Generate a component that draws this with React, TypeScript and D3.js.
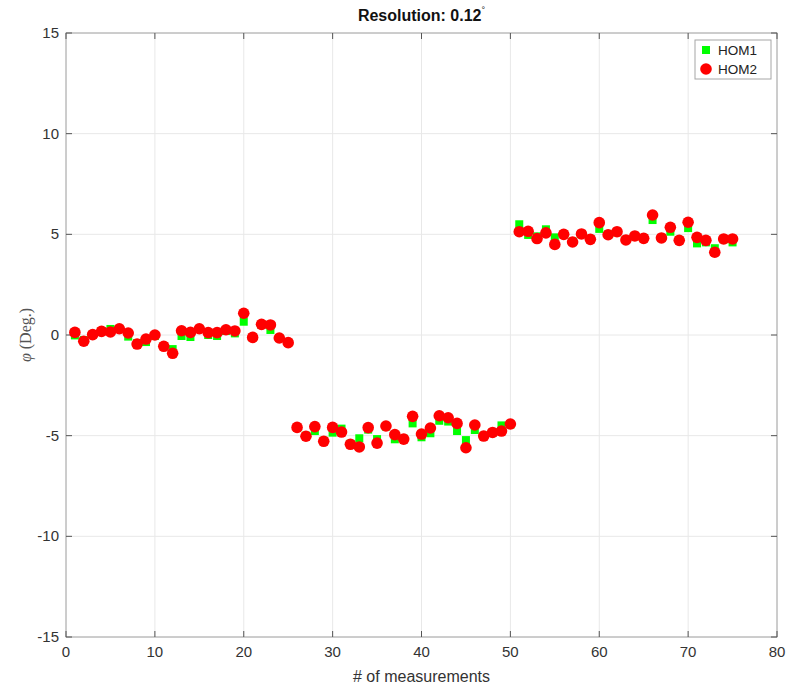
import React, { useEffect, useRef } from "react";
import * as d3 from "d3";

const measurements: number[] = d3.range(1, 76);

const hom2: number[] = [
  0.13, -0.31, 0.02, 0.18, 0.15, 0.31, 0.1, -0.45, -0.2, 0.0,
  -0.56, -0.91, 0.21, 0.13, 0.31, 0.12, 0.12, 0.26, 0.2, 1.08,
  -0.12, 0.53, 0.5, -0.15, -0.38,
  -4.59, -5.03, -4.55, -5.28, -4.59, -4.82, -5.43, -5.56, -4.6, -5.37,
  -4.52, -4.95, -5.17, -4.04, -4.92, -4.62, -4.01, -4.11, -4.39, -5.6,
  -4.47, -5.02, -4.84, -4.77, -4.42,
  5.13, 5.15, 4.79, 5.07, 4.5, 5.0, 4.62, 5.02, 4.75, 5.58,
  4.98, 5.13, 4.72, 4.92, 4.8, 5.96, 4.82, 5.35, 4.7, 5.6,
  4.85, 4.7, 4.11, 4.77, 4.77,
];

const hom1: number[] = [
  -0.02, -0.25, 0.02, 0.2, 0.3, 0.3, -0.08, -0.4, -0.35, -0.05,
  -0.55, -0.7, -0.05, -0.1, 0.3, 0.0, -0.05, 0.2, 0.08, 0.66,
  -0.12, 0.5, 0.25, -0.15, -0.38,
  -4.6, -5.0, -4.77, -5.25, -4.85, -4.65, -5.4, -5.13, -4.7, -5.17,
  -4.55, -5.18, -5.15, -4.39, -5.08, -4.88, -4.26, -4.3, -4.77, -5.22,
  -4.72, -5.0, -4.85, -4.49, -4.45,
  5.5, 4.97, 4.9, 5.25, 4.85, 5.0, 4.65, 5.0, 4.78, 5.27,
  5.0, 5.1, 4.72, 4.9, 4.82, 5.71, 4.82, 5.13, 4.72, 5.31,
  4.55, 4.6, 4.31, 4.75, 4.6,
];

const xTicks: number[] = [0, 10, 20, 30, 40, 50, 60, 70, 80];
const yTicks: number[] = [-15, -10, -5, 0, 5, 10, 15];
const seriesNames: string[] = ["HOM1", "HOM2"];

const W = 786;
const H = 687;
const M = { left: 66, right: 9, top: 33, bottom: 50 };

export default function App() {
  const ref = useRef<SVGSVGElement | null>(null);

  useEffect(() => {
    const svg = d3.select(ref.current);
    svg.selectAll("*").remove();
    const x = d3.scaleLinear().domain([0, 80]).range([M.left, W - M.right]);
    const y = d3.scaleLinear().domain([-15, 15]).range([H - M.bottom, M.top]);
    const font = "'Liberation Sans', Arial, sans-serif";
    const x0 = x(0), x1 = x(80), y0 = y(-15), y1 = y(15);

    svg.append("rect").attr("x", 0).attr("y", 0).attr("width", W).attr("height", H).attr("fill", "#fff");

    // grid
    const g = svg.append("g");
    xTicks.forEach((t) => {
      g.append("line").attr("x1", x(t)).attr("x2", x(t)).attr("y1", y0).attr("y2", y1)
        .attr("stroke", "#e8e8e8").attr("stroke-width", 1);
    });
    yTicks.forEach((t) => {
      g.append("line").attr("x1", x0).attr("x2", x1).attr("y1", y(t)).attr("y2", y(t))
        .attr("stroke", "#e8e8e8").attr("stroke-width", 1);
    });

    // box
    svg.append("rect").attr("x", x0).attr("y", y1).attr("width", x1 - x0).attr("height", y0 - y1)
      .attr("fill", "none").attr("stroke", "#a6a6a6").attr("stroke-width", 1);

    // ticks
    const tl = 6;
    xTicks.forEach((t) => {
      svg.append("line").attr("x1", x(t)).attr("x2", x(t)).attr("y1", y0).attr("y2", y0 - tl).attr("stroke", "#555");
      svg.append("line").attr("x1", x(t)).attr("x2", x(t)).attr("y1", y1).attr("y2", y1 + tl).attr("stroke", "#555");
      svg.append("text").attr("x", x(t)).attr("y", y0 + 20).attr("text-anchor", "middle")
        .attr("font-family", font).attr("font-size", 15).attr("fill", "#333").text(String(t));
    });
    yTicks.forEach((t) => {
      svg.append("line").attr("x1", x0).attr("x2", x0 + tl).attr("y1", y(t)).attr("y2", y(t)).attr("stroke", "#555");
      svg.append("line").attr("x1", x1).attr("x2", x1 - tl).attr("y1", y(t)).attr("y2", y(t)).attr("stroke", "#555");
      svg.append("text").attr("x", x0 - 7).attr("y", y(t) + 5).attr("text-anchor", "end")
        .attr("font-family", font).attr("font-size", 15).attr("fill", "#333").text(String(t));
    });

    // data
    const sq = 8;
    const r = 5.8;
    svg.append("g").selectAll("rect").data(hom1).join("rect")
      .attr("x", (d, i) => x(measurements[i]) - sq / 2)
      .attr("y", (d) => y(d) - sq / 2)
      .attr("width", sq).attr("height", sq).attr("fill", "#00ff00");
    svg.append("g").selectAll("circle").data(hom2).join("circle")
      .attr("cx", (d, i) => x(measurements[i]))
      .attr("cy", (d) => y(d))
      .attr("r", r).attr("fill", "#ff0000");

    // legend
    const lx = 695, ly = 40, lw = 76, lh = 39;
    svg.append("rect").attr("x", lx).attr("y", ly).attr("width", lw).attr("height", lh)
      .attr("fill", "#fff").attr("stroke", "#a6a6a6");
    seriesNames.forEach((n, i) => {
      const cy = ly + 10 + i * 19;
      if (i === 0) {
        svg.append("rect").attr("x", lx + 11 - sq / 2).attr("y", cy - sq / 2).attr("width", sq).attr("height", sq).attr("fill", "#00ff00");
      } else {
        svg.append("circle").attr("cx", lx + 11).attr("cy", cy).attr("r", r).attr("fill", "#ff0000");
      }
      svg.append("text").attr("x", lx + 23).attr("y", cy + 5).attr("font-family", font).attr("font-size", 13.5)
        .attr("fill", "#222").text(n);
    });

    // title
    const title = svg.append("text").attr("x", (x0 + x1) / 2).attr("y", 21).attr("text-anchor", "middle")
      .attr("font-family", font).attr("font-size", 16).attr("font-weight", "bold").attr("fill", "#111");
    title.append("tspan").text("Resolution: 0.12");
    title.append("tspan").attr("font-size", 9).attr("dy", -8).attr("font-weight", "normal").text("°");

    // x label
    svg.append("text").attr("x", (x0 + x1) / 2).attr("y", 682).attr("text-anchor", "middle")
      .attr("font-family", font).attr("font-size", 16).attr("fill", "#333").text("# of measurements");

    // y label
    const yl = svg.append("text").attr("transform", `translate(31, ${y(0)}) rotate(-90)`).attr("text-anchor", "middle")
      .attr("font-family", "'Liberation Serif', 'DejaVu Serif', serif").attr("font-size", 16).attr("fill", "#555");
    yl.append("tspan").attr("font-style", "italic").text("φ");
    yl.append("tspan").text(" (Deg.)");
  }, []);

  return (
    <svg ref={ref} width={W} height={H} style={{ position: "absolute", left: 0, top: 0 }} />
  );
}
